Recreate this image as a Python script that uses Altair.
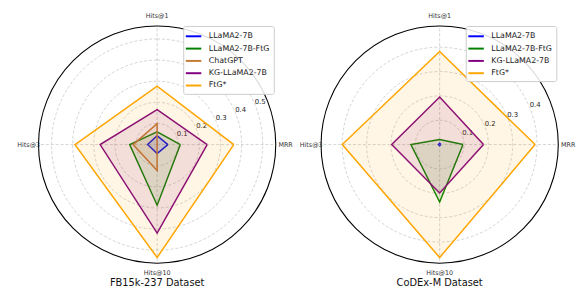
import math
import altair as alt
import pandas as pd

# ---------------- data ----------------
metrics = ["MRR", "Hits@1", "Hits@3", "Hits@10"]
metric_angles = [0, 90, 180, 270]

fb_models = ["LLaMA2-7B", "LLaMA2-7B-FtG", "ChatGPT", "KG-LLaMA2-7B", "FtG*"]
fb_llama2 = [0.051, 0.042, 0.045, 0.042]
fb_llama2_ftg = [0.110, 0.060, 0.130, 0.287]
fb_chatgpt = [0.000, 0.099, 0.114, 0.123]
fb_kg_llama2 = [0.237, 0.165, 0.270, 0.419]
fb_ftg = [0.363, 0.277, 0.389, 0.535]
fb_ticks = [0.1, 0.2, 0.3, 0.4, 0.5]

cx_models = ["LLaMA2-7B", "LLaMA2-7B-FtG", "KG-LLaMA2-7B", "FtG*"]
cx_llama2 = [0.005, 0.005, 0.005, 0.005]
cx_llama2_ftg = [0.096, 0.021, 0.118, 0.236]
cx_kg_llama2 = [0.180, 0.195, 0.197, 0.199]
cx_ftg = [0.392, 0.382, 0.400, 0.464]
cx_ticks = [0.1, 0.2, 0.3, 0.4]

model_colors = {
    "LLaMA2-7B": "#0000ff",
    "LLaMA2-7B-FtG": "#008000",
    "ChatGPT": "#c47c34",
    "KG-LLaMA2-7B": "#800080",
    "FtG*": "#ffa500",
}

FONT = "DejaVu Sans"
R = 120.5
SIZE = 241


def panel(title, models, series, ticks):
    rmax = max(max(s) for s in series) * 1.05
    xs = alt.Scale(domain=[-rmax, rmax], nice=False, zero=False)
    ys = alt.Scale(domain=[-rmax, rmax], nice=False, zero=False)
    rs = alt.Scale(type="linear", domain=[0, rmax], range=[0, R], nice=False, zero=True)
    cscale = alt.Scale(domain=models, range=[model_colors[m] for m in models])
    legend = alt.Legend(
        title=None, orient="none", legendX=147, legendY=0,
        symbolType="M-1.5,0L1.5,0", symbolSize=110, symbolStrokeWidth=2,
        labelFontSize=8, labelFont=FONT, labelColor="#222", labelOffset=9,
        fillColor="rgba(255,255,255,0.85)", strokeColor="#cccccc",
        padding=4, cornerRadius=2, rowPadding=1.5, labelLimit=200,
    )

    grid = alt.Chart(pd.DataFrame({"r": ticks})).mark_arc(
        filled=False, fillOpacity=0, stroke="#c8c8c8", strokeWidth=0.8,
        strokeDash=[3, 2], theta=0, theta2=2 * math.pi,
    ).encode(radius=alt.Radius("r:Q", scale=rs, stack=None))

    outer = alt.Chart(pd.DataFrame({"r": [rmax]})).mark_arc(
        filled=False, fillOpacity=0, stroke="black", strokeWidth=1.1,
        theta=0, theta2=2 * math.pi,
    ).encode(radius=alt.Radius("r:Q", scale=rs, stack=None))

    rays_df = pd.DataFrame({
        "metric": metrics,
        "x0": [0.0] * 4, "y0": [0.0] * 4,
        "x1": [rmax * math.cos(math.radians(a)) for a in metric_angles],
        "y1": [rmax * math.sin(math.radians(a)) for a in metric_angles],
    })
    rays = alt.Chart(rays_df).mark_rule(
        stroke="#c8c8c8", strokeWidth=0.8, strokeDash=[3, 2]
    ).encode(
        x=alt.X("x0:Q", scale=xs, axis=None), y=alt.Y("y0:Q", scale=ys, axis=None),
        x2="x1:Q", y2="y1:Q",
    )

    lab_r = rmax * 1.083
    labels_df = pd.DataFrame({
        "metric": metrics,
        "x": [lab_r * math.cos(math.radians(a)) for a in metric_angles],
        "y": [lab_r * math.sin(math.radians(a)) for a in metric_angles],
    })
    labels = alt.Chart(labels_df).mark_text(
        fontSize=6.5, font=FONT, color="#333", align="center", baseline="middle"
    ).encode(x=alt.X("x:Q", scale=xs), y=alt.Y("y:Q", scale=ys), text="metric:N")

    tick_ang = math.radians(22.5)
    ticks_df = pd.DataFrame({
        "t": ticks,
        "x": [t * math.cos(tick_ang) for t in ticks],
        "y": [t * math.sin(tick_ang) for t in ticks],
    })
    tick_labels = alt.Chart(ticks_df).mark_text(
        fontSize=7, font=FONT, color="#222", align="left", baseline="bottom", dy=1
    ).encode(x=alt.X("x:Q", scale=xs), y=alt.Y("y:Q", scale=ys),
             text=alt.Text("t:Q", format=".1f"))

    layers = [grid, rays, outer, tick_labels]
    for m, vals in zip(models, series):
        rows = []
        for i in range(len(metrics) + 1):
            k = i % len(metrics)
            a = math.radians(metric_angles[k])
            rows.append({"model": m, "metric": metrics[k], "order": i,
                         "x": vals[k] * math.cos(a), "y": vals[k] * math.sin(a)})
        df = pd.DataFrame(rows)
        fill = alt.Chart(df).mark_line(
            fill=model_colors[m], fillOpacity=0.1, strokeOpacity=0
        ).encode(x=alt.X("x:Q", scale=xs), y=alt.Y("y:Q", scale=ys), order="order:Q")
        line = alt.Chart(df).mark_line(strokeWidth=1.5, strokeJoin="miter").encode(
            x=alt.X("x:Q", scale=xs), y=alt.Y("y:Q", scale=ys), order="order:Q",
            color=alt.Color("model:N", scale=cscale, legend=legend),
        )
        layers += [line, fill]
    layers.append(labels)

    return alt.layer(*layers).properties(
        width=SIZE, height=SIZE,
        title=alt.TitleParams(title, orient="bottom", fontSize=10, font=FONT,
                              fontWeight="normal", color="#111", offset=2),
    )


left = panel("FB15k-237 Dataset", fb_models,
             [fb_llama2, fb_llama2_ftg, fb_chatgpt, fb_kg_llama2, fb_ftg], fb_ticks)
right = panel("CoDEx-M Dataset", cx_models,
              [cx_llama2, cx_llama2_ftg, cx_kg_llama2, cx_ftg], cx_ticks)

chart = alt.hconcat(left, right, spacing=46, bounds="flush").resolve_scale(
    color="independent", radius="independent", x="independent", y="independent"
).properties(
    padding={"left": 9, "top": 2, "right": 0, "bottom": 0}
).configure_view(strokeWidth=0)

chart.save("out.html", embed_options={"renderer": "svg", "actions": False})
